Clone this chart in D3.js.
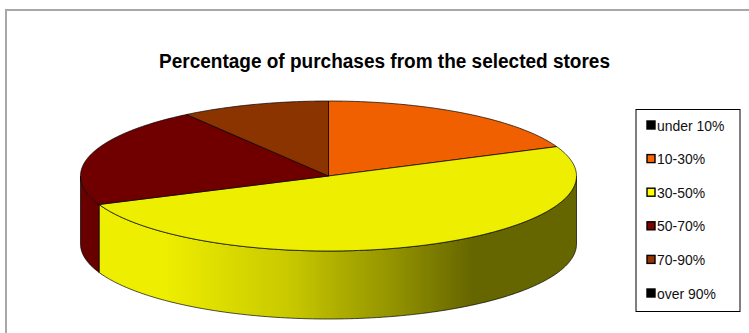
<!DOCTYPE html>
<html>
<head>
<meta charset="utf-8">
<script src="https://cdn.jsdelivr.net/npm/d3@7"></script>
<style>
  html, body { margin: 0; padding: 0; background: #fff; overflow: hidden; }
  svg { display: block; }
  text { font-family: "Liberation Sans", Arial, sans-serif; }
</style>
</head>
<body>
<svg id="chart" width="749" height="333"></svg>
<script>
// Share of purchases by band, in percent
const categories = ["under 10%", "10-30%", "30-50%", "50-70%", "70-90%", "over 90%"];
const shares = [0, 18.6, 50.2, 21.5, 9.7, 0];
const sliceColors = ["#000000", "#f06000", "#eeee00", "#700000", "#8c3400", "#000000"];
const swatchColors = ["#000000", "#ff6600", "#ffff00", "#800000", "#993300", "#000000"];
const wallColors = ["#000000", "#7a3000", null, "#680000", "#4a1c00", "#000000"];
const chartTitle = "Percentage of purchases from the selected stores";

const svg = d3.select("#chart");

// Outer chart frame; its right and bottom sides run past the page
svg.append("rect")
  .attr("x", 6).attr("y", 10)
  .attr("width", 760).attr("height", 340)
  .attr("fill", "#fff").attr("stroke", "#a8a8a8").attr("stroke-width", 2);

svg.append("text")
  .attr("x", 384.5).attr("y", 68)
  .attr("text-anchor", "middle")
  .attr("font-size", 20).attr("font-weight", 700)
  .attr("textLength", 451).attr("lengthAdjust", "spacingAndGlyphs")
  .attr("fill", "#000")
  .text(chartTitle);

// Tilted pie: a unit circle projected onto an ellipse with a rim underneath
const cx = 328.5, cy = 176, rx = 248, ry = 75, depth = 68;
const px = d3.scaleLinear().domain([-1, 1]).range([cx - rx, cx + rx]);
const py = d3.scaleLinear().domain([-1, 1]).range([cy - ry, cy + ry]);

const slices = d3.pie().sort(null).value(d => d)(shares);

function edge(a0, a1) {
  const n = Math.max(2, Math.ceil(Math.abs(a1 - a0) / 0.01));
  return d3.range(n + 1).map(i => {
    const a = a0 + (a1 - a0) * i / n;
    return [px(Math.sin(a)), py(-Math.cos(a))];
  });
}
const toPath = d3.line();

// Rim shading across the front of the yellow slice
const rimStops = [[0, "#eeee00"], [0.21, "#dada00"], [0.41, "#c8c800"], [0.57, "#adad00"],
                  [0.73, "#959500"], [0.86, "#7e7e00"], [1, "#666600"]];
const grad = svg.append("defs").append("linearGradient")
  .attr("id", "rimShade")
  .attr("gradientUnits", "userSpaceOnUse")
  .attr("x1", 165).attr("x2", 472).attr("y1", 0).attr("y2", 0);
rimStops.forEach(([o, c]) => grad.append("stop").attr("offset", o).attr("stop-color", c));

// Front rim: only the part of each slice between 90° and 270° faces the viewer
slices.forEach((s, i) => {
  const a0 = Math.max(s.startAngle, Math.PI / 2);
  const a1 = Math.min(s.endAngle, Math.PI * 3 / 2);
  if (a1 <= a0) return;
  const top = edge(a0, a1);
  const bottom = top.map(p => [p[0], p[1] + depth]).reverse();
  svg.append("path")
    .attr("d", toPath(top.concat(bottom)) + "Z")
    .attr("fill", wallColors[i] || "url(#rimShade)")
    .attr("stroke", "#000").attr("stroke-width", 0.7);
});

// Top faces
svg.append("g").selectAll("path")
  .data(slices.filter(s => s.value > 0))
  .join("path")
  .attr("d", s => toPath([[cx, cy], ...edge(s.startAngle, s.endAngle)]) + "Z")
  .attr("fill", s => sliceColors[s.index])
  .attr("stroke", "#000").attr("stroke-width", 0.7)
  .attr("stroke-linejoin", "round");

// Legend
const legendY = d3.scalePoint().domain(categories).range([125, 293]);
const legend = svg.append("g");
legend.append("rect")
  .attr("x", 636).attr("y", 109.5)
  .attr("width", 104).attr("height", 202)
  .attr("fill", "#fff").attr("stroke", "#000").attr("stroke-width", 1);

const rows = legend.selectAll("g.row").data(categories).join("g")
  .attr("class", "row")
  .attr("transform", d => `translate(0,${legendY(d)})`);
rows.append("rect")
  .attr("x", 647).attr("y", -4)
  .attr("width", 8).attr("height", 8)
  .attr("fill", (d, i) => swatchColors[i])
  .attr("stroke", "#000").attr("stroke-width", 1.4);
rows.append("text")
  .attr("transform", "translate(657,5.5) scale(0.9,1)")
  .attr("font-size", 15.5).attr("fill", "#111")
  .text(d => d);
</script>
</body>
</html>
